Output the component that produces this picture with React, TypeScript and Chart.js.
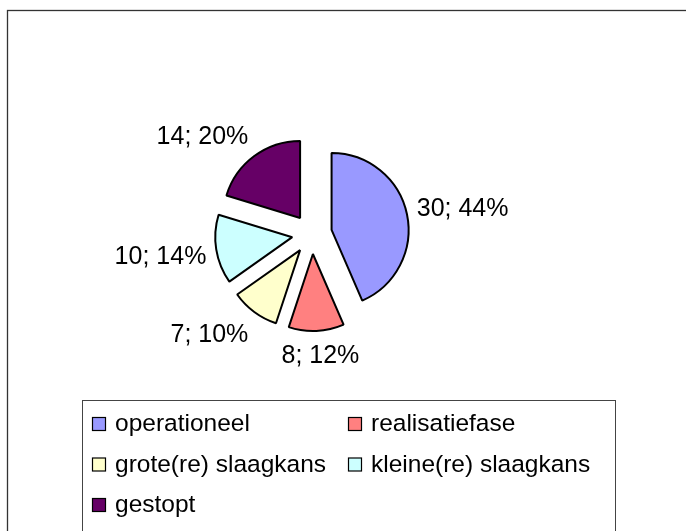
import React, { useEffect, useRef } from "react";
import { Chart, registerables } from "chart.js";

Chart.register(...registerables);

const categories = [
  "operationeel",
  "realisatiefase",
  "grote(re) slaagkans",
  "kleine(re) slaagkans",
  "gestopt",
];
const values = [30, 8, 7, 10, 14];
// percentages as printed on the reference labels
const percents = [44, 12, 10, 14, 20];
const colors = ["#9999FF", "#FF8080", "#FFFFCC", "#CCFFFF", "#660066"];

const EXPLODE = 20;
const LABEL_FONT = "25px 'Liberation Sans', Arial, sans-serif";
const LEGEND_FONT = "24.5px 'Liberation Sans', Arial, sans-serif";

const soft = (v: number) => Math.max(-1, Math.min(1, v * 2));

const explodePlugin = {
  id: "explode",
  beforeDatasetDraw(chart: any, args: any) {
    const meta = chart.getDatasetMeta(args.index);
    const ctx = chart.ctx;
    meta.data.forEach((arc: any) => {
      const mid = (arc.startAngle + arc.endAngle) / 2;
      ctx.save();
      ctx.translate(Math.cos(mid) * EXPLODE, Math.sin(mid) * EXPLODE);
      arc.draw(ctx);
      ctx.restore();
    });
    return false;
  },
};

const labelPlugin = {
  id: "pieLabels",
  afterDatasetsDraw(chart: any) {
    const meta = chart.getDatasetMeta(0);
    const ctx = chart.ctx;
    ctx.save();
    ctx.font = LABEL_FONT;
    ctx.fillStyle = "#000";
    ctx.textAlign = "center";
    ctx.textBaseline = "middle";
    meta.data.forEach((arc: any, i: number) => {
      const mid = (arc.startAngle + arc.endAngle) / 2;
      const dx = Math.cos(mid);
      const dy = Math.sin(mid);
      const r = arc.outerRadius + EXPLODE + 10;
      const ax = arc.x + dx * r;
      const ay = arc.y + dy * r;
      const text = `${values[i]}; ${percents[i]}%`;
      const w = ctx.measureText(text).width;
      const h = 26;
      const cx = ax + soft(dx) * (w / 2);
      const cy = ay + soft(dy) * (h / 2);
      ctx.fillText(text, cx, cy + 2);
    });
    ctx.restore();
  },
};

const framePlugin = {
  id: "frameLegend",
  afterDraw(chart: any) {
    const ctx = chart.ctx;
    ctx.save();
    // outer chart frame
    ctx.strokeStyle = "#333";
    ctx.lineWidth = 1.3;
    ctx.strokeRect(7.5, 10.5, 800, 700);
    // legend box
    ctx.strokeStyle = "#444";
    ctx.lineWidth = 1;
    ctx.strokeRect(82.5, 400.5, 533, 200);
    ctx.font = LEGEND_FONT;
    ctx.textAlign = "left";
    ctx.textBaseline = "middle";
    const colX = [92, 348];
    const textOff = 23;
    const rowY0 = 423.5;
    const rowGap = 40.5;
    categories.forEach((cat, i) => {
      const col = i % 2;
      const row = Math.floor(i / 2);
      const x = colX[col];
      const y = rowY0 + row * rowGap;
      ctx.fillStyle = colors[i];
      ctx.fillRect(x + 0.5, y - 6, 13, 13);
      ctx.strokeStyle = "#000";
      ctx.lineWidth = 1.2;
      ctx.strokeRect(x + 0.5, y - 6, 13, 13);
      ctx.fillStyle = "#000";
      ctx.fillText(cat, x + textOff, y + 1);
    });
    ctx.restore();
  },
};

export default function App() {
  const ref = useRef<HTMLCanvasElement | null>(null);
  useEffect(() => {
    if (!ref.current) return;
    const chart = new Chart(ref.current, {
      type: "pie",
      data: {
        labels: categories,
        datasets: [
          {
            data: values,
            backgroundColor: colors,
            borderColor: "#000",
            borderWidth: 2,
          },
        ],
      },
      options: {
        responsive: false,
        animation: false,
        radius: 77,
        layout: { padding: { left: 0, top: 0, right: 62, bottom: 63 } },
        plugins: {
          legend: { display: false },
          tooltip: { enabled: false },
          title: { display: false },
        },
        events: [],
      } as any,
      plugins: [explodePlugin, labelPlugin, framePlugin],
    });
    return () => chart.destroy();
  }, []);
  return (
    <div style={{ position: "absolute", left: 0, top: 0, width: 686, height: 531, background: "#fff" }}>
      <canvas ref={ref} width={686} height={531} style={{ display: "block" }} />
    </div>
  );
}
